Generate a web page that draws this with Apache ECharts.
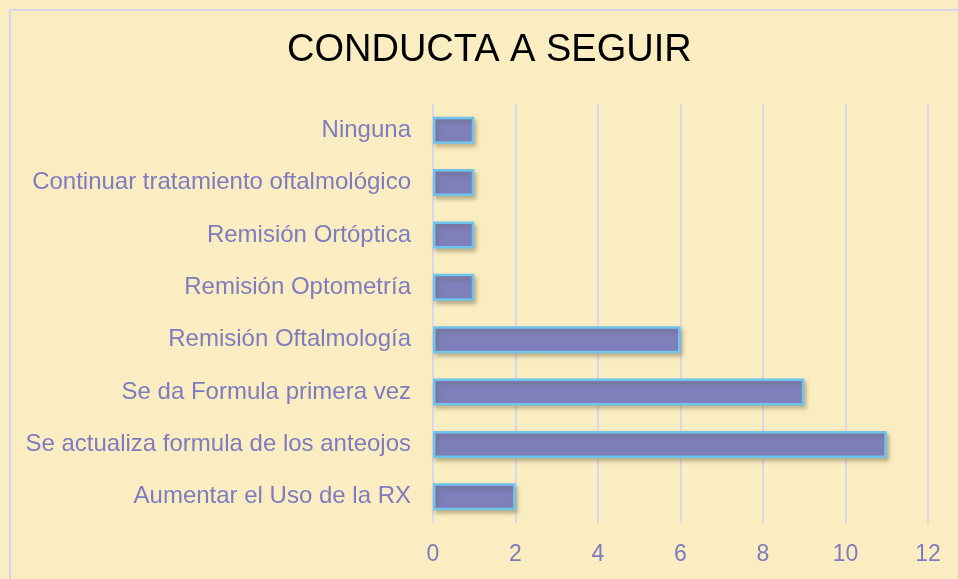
<!DOCTYPE html>
<html><head><meta charset="utf-8">
<script src="https://cdn.jsdelivr.net/npm/echarts@6/dist/echarts.min.js"></script>
<style>html,body{margin:0;padding:0;background:#FBEDC2;}#c{width:958px;height:579px;}</style>
</head><body><div id="c"></div>
<script>
const categories = ["Aumentar el Uso de la RX","Se actualiza formula de los anteojos","Se da Formula primera vez","Remisión Oftalmología","Remisión Optometría","Remisión Ortóptica","Continuar tratamiento oftalmológico","Ninguna"];
const values = [2, 11, 9, 6, 1, 1, 1, 1];
const xTicks = [0, 2, 4, 6, 8, 10, 12];
const titleText = "CONDUCTA A SEGUIR";

const chart = echarts.init(document.getElementById('c'));
chart.setOption({
  backgroundColor: '#FBEDC2',
  animation: false,
  title: {text: titleText, left: 282, top: 27,
    textStyle: {fontFamily: 'Liberation Sans, Arial', fontSize: 38, fontWeight: 'normal', color: '#000'}},
  graphic: [{type: 'rect', shape: {x: 10, y: 10, width: 960, height: 580},
    style: {fill: 'none', stroke: '#D8D6EC', lineWidth: 2}, silent: true}],
  grid: {left: 433, right: 30, top: 104, bottom: 56},
  xAxis: {type: 'value', min: xTicks[0], max: xTicks[xTicks.length - 1], interval: 2,
    axisLine: {show: false}, axisTick: {show: false},
    splitLine: {show: true, lineStyle: {color: '#DAD6EC', width: 2}},
    axisLabel: {color: '#7F7BC0', fontSize: 23, fontFamily: 'Liberation Sans, Arial', margin: 20}},
  yAxis: {type: 'category', data: categories,
    axisLine: {show: false}, axisTick: {show: false},
    axisLabel: {color: '#7F7BC0', fontSize: 24, fontFamily: 'Liberation Sans, Arial', margin: 22}},
  series: [{type: 'bar', data: values, barWidth: 27,
    itemStyle: {color: '#7F7FBC', borderColor: '#6FC4EC', borderWidth: 2.5,
      shadowColor: 'rgba(90,80,40,0.35)', shadowBlur: 4, shadowOffsetX: 2, shadowOffsetY: 3}}]
});
</script></body></html>
